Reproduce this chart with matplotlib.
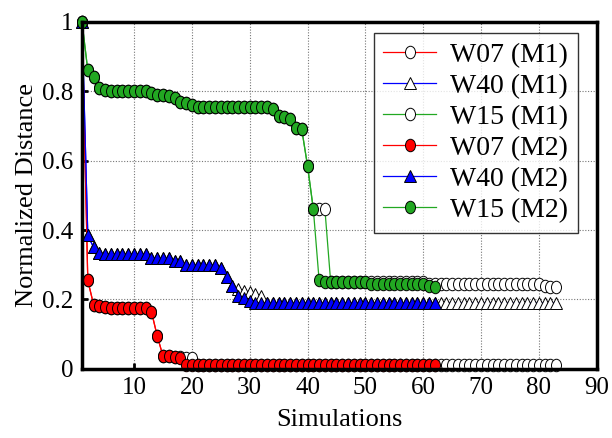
import numpy as np
import matplotlib
matplotlib.use("Agg")
import matplotlib.pyplot as plt
from matplotlib.path import Path
from matplotlib.transforms import Affine2D

plt.rcParams["font.family"] = ["Liberation Serif", "DejaVu Serif"]

# ----- data -----
w07_m2 = ([1.0, 0.255, 0.185, 0.18, 0.178] + [0.175] * 7
          + [0.165, 0.095, 0.037, 0.036, 0.035, 0.03] + [0.01] * 44)
w07_m1 = w07_m2[:17] + [0.035, 0.032, 0.03] + [0.01] * 63

w40_m2 = ([1.0, 0.385, 0.35, 0.335] + [0.33] * 8 + [0.32] * 4 + [0.31] * 2
          + [0.30] * 6 + [0.29, 0.265, 0.24, 0.21, 0.205, 0.195] + [0.19] * 32)
w40_m1 = w40_m2[:27] + [0.23, 0.225, 0.22, 0.215, 0.21] + [0.19] * 51

w15_m2 = ([1.0, 0.86, 0.84, 0.81, 0.805] + [0.80] * 7
          + [0.795, 0.79, 0.79, 0.785, 0.78, 0.77, 0.765, 0.76]
          + [0.755] * 13 + [0.75, 0.73, 0.725, 0.72, 0.695, 0.69, 0.585, 0.46]
          + [0.255] + [0.25] * 8 + [0.245] * 10 + [0.24, 0.235])
w15_m1 = (w15_m2[:40] + [0.46, 0.46, 0.46] + [0.25] * 17 + [0.245] * 20
          + [0.24, 0.235, 0.235])

RED, BLUE, GREEN = "#ff0000", "#0000ff", "#22a822"

# the original markers look slightly taller than wide
circ = Path.unit_circle()
oval = Path(Affine2D().scale(0.8, 1.0).transform(circ.vertices), circ.codes)

fig = plt.figure(figsize=(6.12, 4.38), dpi=100)
ax = fig.add_axes([0.134, 0.158, 0.841, 0.792])

series = [
    (w07_m1, RED, oval, "white", "W07 (M1)"),
    (w40_m1, BLUE, "^", "white", "W40 (M1)"),
    (w15_m1, GREEN, oval, "white", "W15 (M1)"),
    (w07_m2, RED, oval, RED, "W07 (M2)"),
    (w40_m2, BLUE, "^", BLUE, "W40 (M2)"),
    (w15_m2, GREEN, oval, GREEN, "W15 (M2)"),
]
for vals, col, mk, fc, lab in series:
    x = np.arange(1, len(vals) + 1)
    ms = 9.0 if mk is oval else 8.3
    ax.plot(x, vals, color=col, lw=0.9, marker=mk, markersize=ms,
            markerfacecolor=fc, markeredgecolor="black", markeredgewidth=0.7,
            label=lab, clip_on=False)

ax.set_xlim(1, 90)
ax.set_ylim(0, 1)
ax.set_xticks(np.arange(10, 91, 10))
ax.set_yticks([0, 0.2, 0.4, 0.6, 0.8, 1.0])
ax.set_yticklabels(["0", "0.2", "0.4", "0.6", "0.8", "1"])
ax.grid(True, color="#777777", linestyle=(0, (1, 1.5)), linewidth=0.8)
ax.tick_params(direction="in", length=4, width=2, labelsize=18, pad=6)
for sp in ax.spines.values():
    sp.set_linewidth(2.5)

ax.set_xlabel("Simulations", fontsize=19, labelpad=7)
ax.set_ylabel("Normalized Distance", fontsize=19, labelpad=3)

leg = ax.legend(loc="upper right", bbox_to_anchor=(0.963, 0.968), fontsize=20,
                frameon=True, fancybox=False, edgecolor="black",
                handlelength=1.9, handletextpad=0.5, labelspacing=0.2,
                borderpad=0.35, borderaxespad=0.0)
leg.get_frame().set_linewidth(1.0)

fig.savefig("out.png", dpi=100)
